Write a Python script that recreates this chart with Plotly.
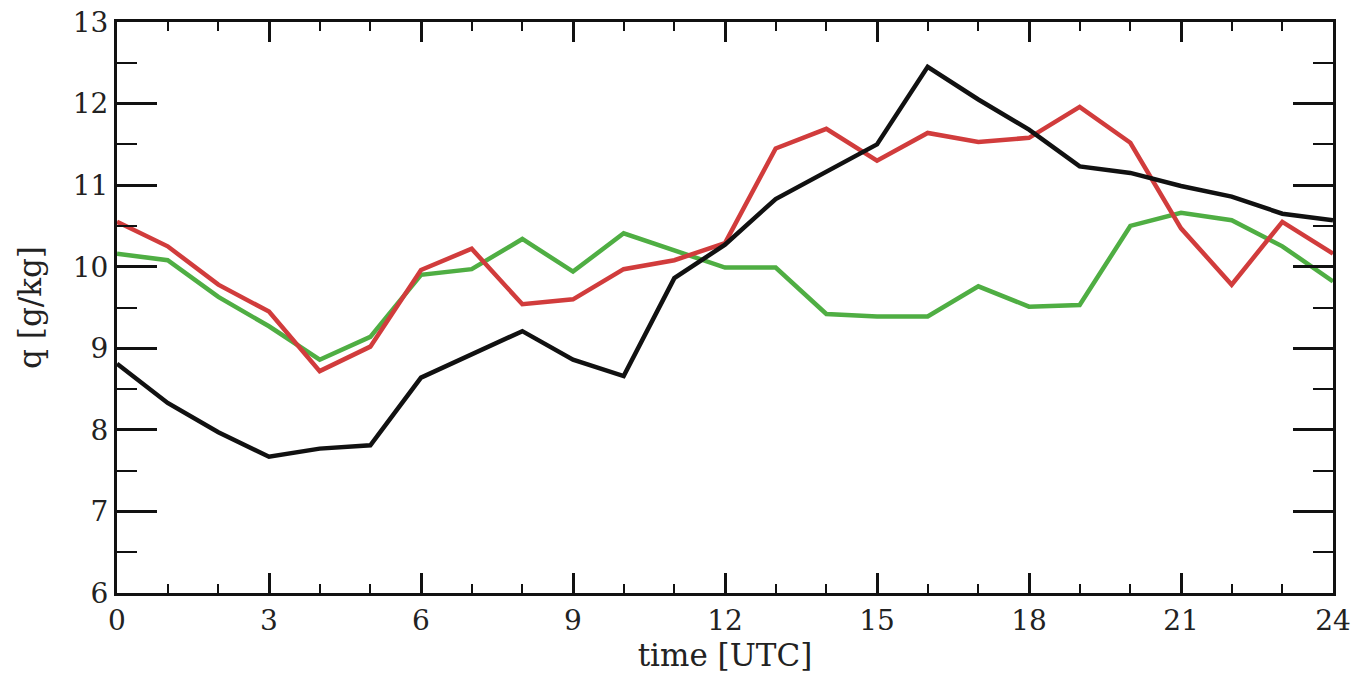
import plotly.graph_objects as go

hours = list(range(25))
q_black = [8.81, 8.33, 7.97, 7.67, 7.77, 7.81, 8.64, 8.92, 9.21, 8.86, 8.66, 9.86, 10.27,
           10.83, 11.16, 11.50, 12.45, 12.05, 11.68, 11.23, 11.15, 10.99, 10.86, 10.65, 10.57]
q_red = [10.55, 10.25, 9.78, 9.45, 8.72, 9.02, 9.96, 10.22, 9.54, 9.60, 9.97, 10.08, 10.29,
         11.45, 11.69, 11.30, 11.64, 11.53, 11.58, 11.96, 11.52, 10.47, 9.78, 10.55, 10.16]
q_green = [10.16, 10.08, 9.63, 9.27, 8.86, 9.14, 9.90, 9.97, 10.34, 9.94, 10.41, 10.20, 9.99,
           9.99, 9.42, 9.39, 9.39, 9.76, 9.51, 9.53, 10.50, 10.66, 10.57, 10.25, 9.82]
x_ticks = [0, 3, 6, 9, 12, 15, 18, 21, 24]
y_ticks = [6, 7, 8, 9, 10, 11, 12, 13]

fig = go.Figure()
for vals, col in [(q_green, "#4fae43"), (q_red, "#d13c3c"), (q_black, "#111111")]:
    fig.add_trace(go.Scatter(x=hours, y=vals, mode="lines",
                             line=dict(color=col, width=4.5), showlegend=False))

font = dict(family="DejaVu Serif, Liberation Serif, serif", size=28, color="#222")
title_font = dict(family="DejaVu Serif, Liberation Serif, serif", size=31, color="#222")
fig.update_layout(
    width=1358, height=691,
    margin=dict(l=117, r=25, t=22, b=98),
    paper_bgcolor="white", plot_bgcolor="white",
    font=font,
)
fig.update_xaxes(
    range=[0, 24], tickvals=x_ticks, ticktext=[str(v) for v in x_ticks],
    showgrid=False, zeroline=False, automargin=False,
    showline=True, linecolor="#111", linewidth=3, mirror="allticks",
    ticks="inside", ticklen=20, tickwidth=3, tickcolor="#111",
    minor=dict(dtick=1, tick0=0, ticks="inside", ticklen=9, tickwidth=2, tickcolor="#111", showgrid=False),
    title=dict(text="time [UTC]", standoff=4, font=title_font),
    tickfont=font,
)
fig.update_yaxes(
    range=[6, 13], tickvals=y_ticks, ticktext=[str(v) for v in y_ticks],
    showgrid=False, zeroline=False, automargin=False,
    showline=True, linecolor="#111", linewidth=3, mirror="allticks",
    ticks="inside", ticklen=40, tickwidth=3, tickcolor="#111",
    minor=dict(dtick=0.5, tick0=6, ticks="inside", ticklen=20, tickwidth=2, tickcolor="#111", showgrid=False),
    title=dict(text="q [g/kg]", standoff=22, font=title_font),
    tickfont=font,
)
fig.write_html("out.html")
